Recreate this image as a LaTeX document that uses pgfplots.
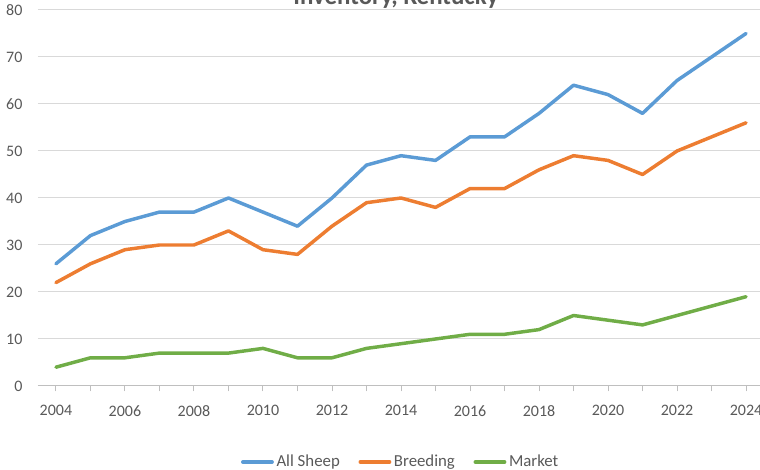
\documentclass[border=0pt]{standalone}
\usepackage{pgfplots}
\pgfplotsset{compat=1.18}
\usepackage{fontspec}
\setmainfont{Carlito}
\definecolor{cBlue}{HTML}{5B9BD5}
\definecolor{cOrange}{HTML}{ED7D31}
\definecolor{cGreen}{HTML}{70AD47}
\definecolor{cGrid}{HTML}{D9D9D9}
\definecolor{cAxis}{HTML}{BFBFBF}
\definecolor{cText}{HTML}{595959}
\pgfplotstableread{
year all breeding market
2004 26 22 4
2005 32 26 6
2006 35 29 6
2007 37 30 7
2008 37 30 7
2009 40 33 7
2010 37 29 8
2011 34 28 6
2012 40 34 6
2013 47 39 8
2014 49 40 9
2015 48 38 10
2016 53 42 11
2017 53 42 11
2018 58 46 12
2019 64 49 15
2020 62 48 14
2021 58 45 13
2022 65 50 15
2023 70 53 17
2024 75 56 19
}\sheep
\begin{document}
\begin{tikzpicture}
\useasboundingbox (0,0) rectangle (570pt,352.5pt);
\clip (0,0) rectangle (570pt,352.5pt);
\node[anchor=base, font=\fontsize{18.7pt}{22pt}\selectfont\bfseries, text=cText, inner sep=0pt] at (297pt,348.75pt) {Inventory, Kentucky};
\begin{axis}[
  at={(28.5pt,63pt)}, anchor=south west,
  scale only axis, width=544.5pt, height=282pt,
  xmin=2003.48, xmax=2024.52, ymin=0, ymax=80,
  axis x line*=bottom, axis y line*=left,
  x axis line style={draw=cAxis, line width=0.75pt, -},
  y axis line style={draw=none, -},
  xtick={2004,2006,...,2024},
  minor xtick={2005,2007,...,2023},
  ytick={0,10,...,80},
  tick align=outside,
  major tick length=4pt, minor tick length=4pt,
  x tick style={draw=cAxis, line width=0.75pt},
  y tick style={draw=none},
  ymajorgrids, grid style={draw=cGrid, line width=0.75pt},
  xticklabel style={inner sep=0pt, yshift=-10.5pt, text=cText, font=\fontsize{12pt}{14pt}\selectfont},
  yticklabel style={inner sep=0pt, xshift=-7.5pt, text=cText, font=\fontsize{12pt}{14pt}\selectfont},
  /pgf/number format/assume math mode=true,
  xticklabel={\pgfmathprintnumber[1000 sep={}]{\tick}},
  legend columns=3,
  legend style={at={(0.5,-0.202)}, anchor=center, draw=none, fill=none,
    font=\fontsize{12.6pt}{14pt}\selectfont, text=cText,
    /tikz/every even column/.append style={column sep=12pt}},
  legend image code/.code={\draw[#1, line width=2.6pt] (0pt,0pt) -- (22pt,0pt);},
  every axis plot/.append style={line width=2.6pt, line join=round, line cap=round, no markers},
]
\addplot[cBlue] table[x=year, y=all] {\sheep};
\addlegendentry{All Sheep}
\addplot[cOrange] table[x=year, y=breeding] {\sheep};
\addlegendentry{Breeding}
\addplot[cGreen] table[x=year, y=market] {\sheep};
\addlegendentry{Market}
\end{axis}
\end{tikzpicture}
\end{document}
